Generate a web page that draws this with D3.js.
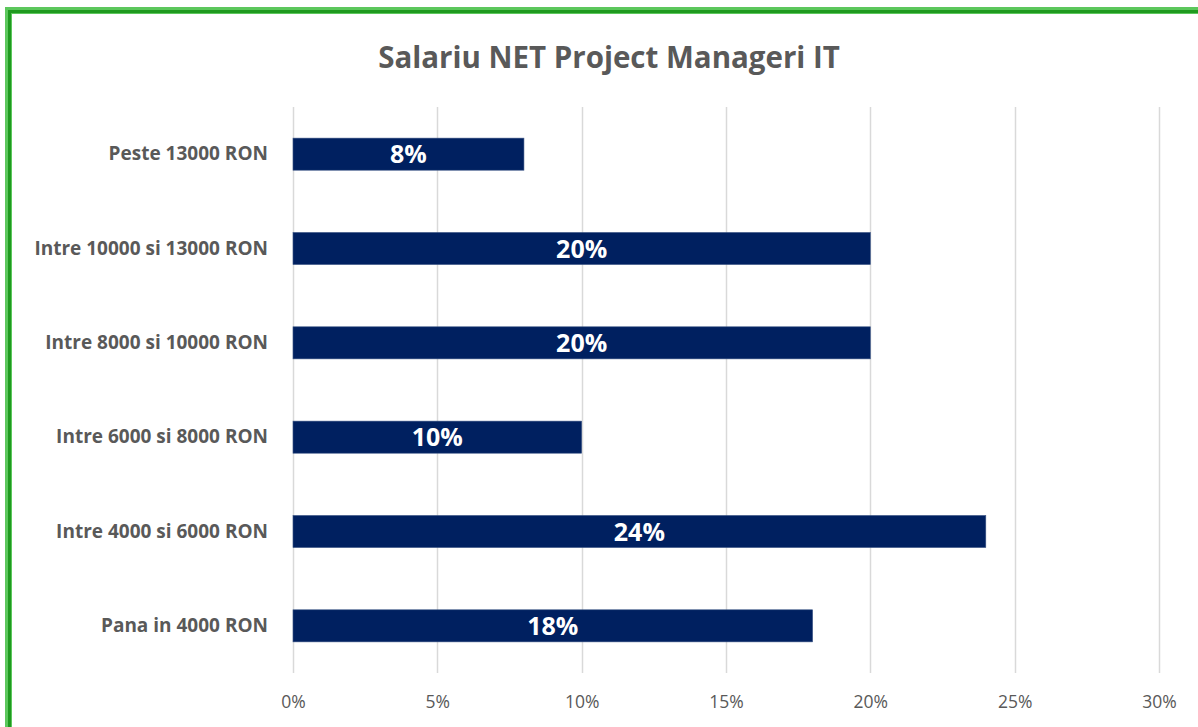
<!DOCTYPE html>
<html>
<head>
<meta charset="utf-8">
<script src="https://cdn.jsdelivr.net/npm/d3@7"></script>
<style>
  body { margin: 0; background: #fff; }
  svg text { font-family: "Open Sans", "Noto Sans", sans-serif; }
</style>
</head>
<body>
<div id="chart"></div>
<script>
"use strict";

// categories top -> bottom
var categories = [
  "Peste 13000 RON",
  "Intre 10000 si 13000 RON",
  "Intre 8000 si 10000 RON",
  "Intre 6000 si 8000 RON",
  "Intre 4000 si 6000 RON",
  "Pana in 4000 RON"
];
var values = [8, 20, 20, 10, 24, 18];
var xTicks = [0, 5, 10, 15, 20, 25, 30];
var title = "Salariu NET Project Manageri IT";

var W = 1198, H = 727;
var margin = {top: 107, right: 39, bottom: 54, left: 293};
var width = W - margin.left - margin.right;   // 0..30%
var height = H - margin.top - margin.bottom;

var svg = d3.select("#chart").append("svg")
    .attr("width", W)
    .attr("height", H);

// green frame (two tone)
svg.append("rect")
    .attr("x", 8.5).attr("y", 10.5)
    .attr("width", W + 20).attr("height", H + 20)
    .attr("fill", "none")
    .attr("stroke", "#5cc75c")
    .attr("stroke-width", 7);
svg.append("rect")
    .attr("x", 9.5).attr("y", 11.5)
    .attr("width", W + 20).attr("height", H + 20)
    .attr("fill", "none")
    .attr("stroke", "#1f9a1f")
    .attr("stroke-width", 3);

svg.append("text")
    .attr("x", 609)
    .attr("y", 68)
    .attr("text-anchor", "middle")
    .attr("fill", "#595959")
    .attr("font-size", 29.5)
    .attr("font-weight", "bold")
    .text(title);

var g = svg.append("g")
    .attr("transform", "translate(" + margin.left + "," + margin.top + ")");

var x = d3.scaleLinear().domain([0, 30]).range([0, width]);
var y = d3.scaleBand().domain(categories).range([0, height]).paddingInner(0.66).paddingOuter(0.33);

// vertical gridlines
g.selectAll(".grid").data(xTicks).enter().append("line")
    .attr("class", "grid")
    .attr("x1", function(d) { return Math.round(x(d)) + 0.5; })
    .attr("x2", function(d) { return Math.round(x(d)) + 0.5; })
    .attr("y1", 0)
    .attr("y2", height)
    .attr("stroke", "#d9d9d9")
    .attr("stroke-width", 1.5);

// x axis labels
var xAxis = g.append("g")
    .attr("transform", "translate(0," + (height + 20) + ")")
    .call(d3.axisBottom(x).tickValues(xTicks).tickSize(0).tickFormat(function(d) { return d + "%"; }));
xAxis.select(".domain").remove();
xAxis.selectAll("text")
    .attr("fill", "#595959")
    .attr("font-size", 17.5)
    .attr("font-family", "Open Sans, sans-serif");

// y axis labels
var yAxis = g.append("g")
    .attr("transform", "translate(-22,0)")
    .call(d3.axisLeft(y).tickSize(0));
yAxis.select(".domain").remove();
yAxis.selectAll("text")
    .attr("fill", "#595959")
    .attr("font-size", 19)
    .attr("font-weight", "bold")
    .attr("font-family", "Open Sans, sans-serif");

// bars
g.selectAll(".bar").data(values).enter().append("rect")
    .attr("class", "bar")
    .attr("x", x(0))
    .attr("y", function(d, i) { return y(categories[i]); })
    .attr("width", function(d) { return x(d) - x(0); })
    .attr("height", y.bandwidth())
    .attr("fill", "#002060")
    .attr("stroke", "#3b5585")
    .attr("stroke-width", 0.6);

// value labels
g.selectAll(".lbl").data(values).enter().append("text")
    .attr("class", "lbl")
    .attr("x", function(d) { return x(d / 2); })
    .attr("y", function(d, i) { return y(categories[i]) + y.bandwidth() / 2; })
    .attr("dy", "0.36em")
    .attr("text-anchor", "middle")
    .attr("fill", "#ffffff")
    .attr("font-size", 25)
    .attr("font-weight", "bold")
    .text(function(d) { return d + "%"; });
</script>
</body>
</html>
